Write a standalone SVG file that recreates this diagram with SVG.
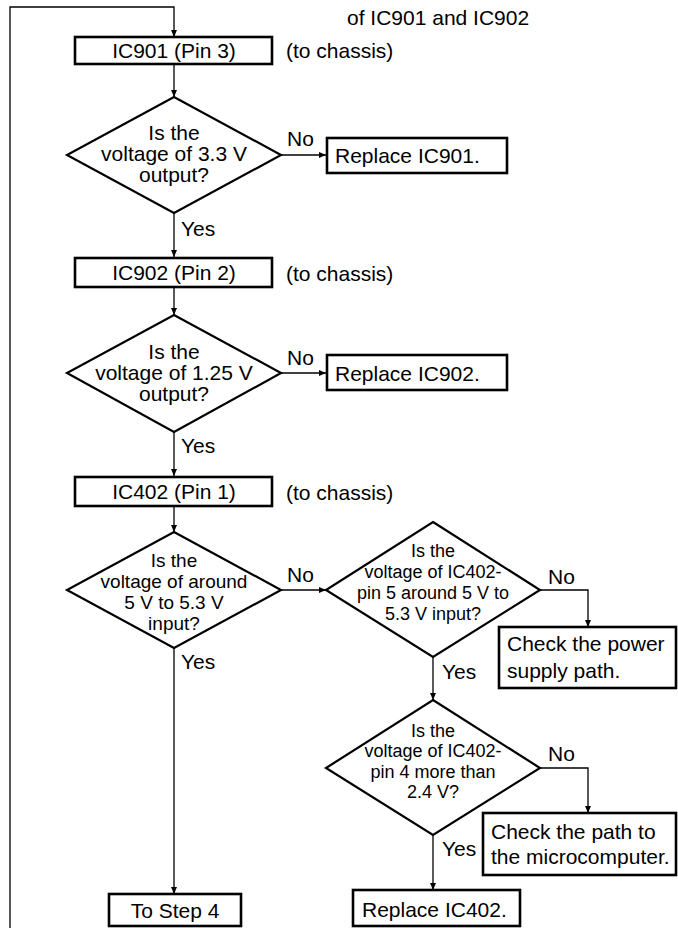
<svg xmlns="http://www.w3.org/2000/svg" width="678" height="928" viewBox="0 0 678 928">
<style>
text{font-family:"Liberation Sans",Arial,sans-serif;font-size:21px;fill:#000}
.c{text-anchor:middle}
.s19{font-size:19px}
.s18{font-size:18px}
.box{fill:#fff;stroke:#000;stroke-width:2.6}
.dia{fill:#fff;stroke:#000;stroke-width:2.2}
.ln{fill:none;stroke:#000;stroke-width:1.3}
</style>
<defs>
<marker id="ah" markerWidth="8" markerHeight="8" refX="7" refY="4" orient="auto" markerUnits="userSpaceOnUse">
<path d="M0,1 L7,4 L0,7 Z" fill="#000"/>
</marker>
</defs>
<rect width="678" height="928" fill="#fff"/>
<text x="347" y="25">of IC901 and IC902</text>
<g id="connectors">
<path class="ln" d="M10,928 V7 H174 V37" marker-end="url(#ah)"/>
<path class="ln" d="M174,64 V97" marker-end="url(#ah)"/>
<path class="ln" d="M281,155 H326" marker-end="url(#ah)"/>
<path class="ln" d="M174,213 V257" marker-end="url(#ah)"/>
<path class="ln" d="M174,287 V315" marker-end="url(#ah)"/>
<path class="ln" d="M281,373 H326" marker-end="url(#ah)"/>
<path class="ln" d="M174,432 V476" marker-end="url(#ah)"/>
<path class="ln" d="M174,506 V532" marker-end="url(#ah)"/>
<path class="ln" d="M281,590 H326" marker-end="url(#ah)"/>
<path class="ln" d="M174,648 V894" marker-end="url(#ah)"/>
<path class="ln" d="M540,590 H588 V627" marker-end="url(#ah)"/>
<path class="ln" d="M433,657 V700" marker-end="url(#ah)"/>
<path class="ln" d="M540,768 H588 V813" marker-end="url(#ah)"/>
<path class="ln" d="M433,835 V890" marker-end="url(#ah)"/>
<text x="287" y="146">No</text>
<text x="181" y="236">Yes</text>
<text x="287" y="365">No</text>
<text x="181" y="453">Yes</text>
<text x="287" y="582">No</text>
<text x="181" y="669">Yes</text>
<text x="548" y="584">No</text>
<text x="442" y="679">Yes</text>
<text x="548" y="761">No</text>
<text x="442" y="856">Yes</text>
</g>
<g id="ic901">
<rect class="box" x="75" y="37" width="197" height="27"/>
<text class="c" x="174" y="58">IC901 (Pin 3)</text>
<text x="286" y="58">(to chassis)</text>
</g>
<g id="q1">
<polygon class="dia" points="174,97 281,155 174,213 67,155"/>
<text class="c" x="174" y="140">Is the</text>
<text class="c" x="174" y="161">voltage of 3.3 V</text>
<text class="c" x="174" y="182">output?</text>
</g>
<g id="rep901">
<rect class="box" x="327" y="138" width="180" height="35"/>
<text x="335" y="163">Replace IC901.</text>
</g>
<g id="ic902">
<rect class="box" x="75" y="258" width="197" height="29"/>
<text class="c" x="174" y="280">IC902 (Pin 2)</text>
<text x="286" y="281">(to chassis)</text>
</g>
<g id="q2">
<polygon class="dia" points="174,315 281,373 174,432 67,373"/>
<text class="c" x="174" y="359">Is the</text>
<text class="c" x="174" y="380">voltage of 1.25 V</text>
<text class="c" x="174" y="401">output?</text>
</g>
<g id="rep902">
<rect class="box" x="327" y="355" width="180" height="35"/>
<text x="335" y="381">Replace IC902.</text>
</g>
<g id="ic402">
<rect class="box" x="75" y="477" width="197" height="29"/>
<text class="c" x="174" y="499">IC402 (Pin 1)</text>
<text x="286" y="500">(to chassis)</text>
</g>
<g id="q3">
<polygon class="dia" points="174,532 281,590 174,648 67,590"/>
<text class="c s19" x="174" y="567">Is the</text>
<text class="c s19" x="174" y="588">voltage of around</text>
<text class="c s19" x="174" y="609">5 V to 5.3 V</text>
<text class="c s19" x="174" y="630">input?</text>
</g>
<g id="q4">
<polygon class="dia" points="433,522 540,590 433,657 326,590"/>
<text class="c s18" x="433" y="557">Is the</text>
<text class="c s18" x="433" y="578">voltage of IC402-</text>
<text class="c s18" x="433" y="599">pin 5 around 5 V to</text>
<text class="c s18" x="433" y="620">5.3 V input?</text>
</g>
<g id="power">
<rect class="box" x="499" y="627" width="177" height="61"/>
<text x="507" y="651">Check the power</text>
<text x="507" y="678">supply path.</text>
</g>
<g id="q5">
<polygon class="dia" points="433,700 540,768 433,835 326,768"/>
<text class="c s18" x="433" y="737">Is the</text>
<text class="c s18" x="433" y="757">voltage of IC402-</text>
<text class="c s18" x="433" y="778">pin 4 more than</text>
<text class="c s18" x="433" y="798">2.4 V?</text>
</g>
<g id="micro">
<rect class="box" x="483" y="813" width="193" height="62"/>
<text x="491" y="839">Check the path to</text>
<text x="491" y="864">the microcomputer.</text>
</g>
<g id="rep402">
<rect class="box" x="353" y="890" width="167" height="36"/>
<text x="362" y="917">Replace IC402.</text>
</g>
<g id="step4">
<rect class="box" x="109" y="894" width="132" height="32"/>
<text class="c" x="175" y="918">To Step 4</text>
</g>
</svg>
